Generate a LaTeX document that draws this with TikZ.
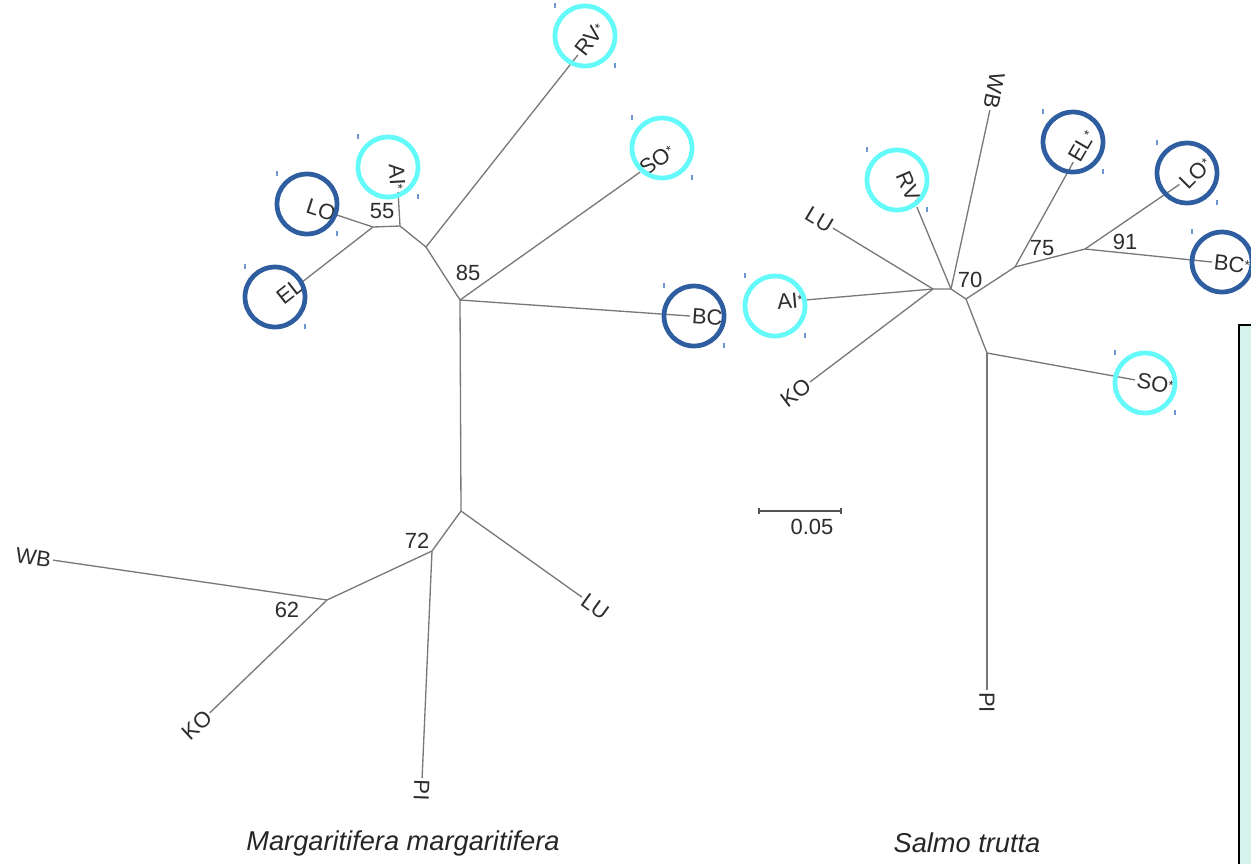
\documentclass[tikz,border=0pt]{standalone}
\usepackage{fontspec}
\setmainfont{Liberation Sans}
\definecolor{treegray}{RGB}{120,120,120}
\definecolor{txtgray}{RGB}{45,45,45}
\definecolor{ringcyan}{RGB}{100,250,250}
\definecolor{ringblue}{RGB}{46,94,160}
\definecolor{handleblue}{RGB}{110,150,210}
\definecolor{panelmint}{RGB}{214,242,236}
\newcommand{\popmark}{\raisebox{0.3ex}{\fontsize{7.5}{7.5}\selectfont *}}

\begin{document}
\begin{tikzpicture}[x=0.02cm,y=-0.02cm,
    branch/.style={treegray,line width=0.75pt},
    leaf/.style={inner sep=1pt,text=txtgray,font=\fontsize{12.5}{12.5}\selectfont},
    boot/.style={inner sep=0pt,text=txtgray,font=\fontsize{12.5}{12.5}\selectfont},
    ring/.style={circle,draw=#1,line width=2.7pt,minimum size=1.2cm,inner sep=0pt},
    handle/.style={handleblue,line width=0.6pt},
    title/.style={font=\fontsize{15.5}{16}\selectfont\itshape,text=black!85}]
    \useasboundingbox (0,0) rectangle (1251,863);

    % side panel
    \fill[panelmint] (1239,325) rectangle (1252,864);
    \draw[black,line width=1pt] (1239,864) -- (1239,325) -- (1252,325);

    % Margaritifera tree
    \coordinate (mA) at (460,300);
    \coordinate (mB) at (426,247);
    \coordinate (mC) at (400,226);
    \coordinate (mD) at (373,227);
    \coordinate (mE) at (461,511);
    \coordinate (mF) at (432,551);
    \coordinate (mG) at (327,600);
    \node[boot] (m85) at (468,273) {85};
    \node[boot] (m55) at (382,211) {55};
    \node[boot] (m72) at (417,541) {72};
    \node[boot] (m62) at (287,610) {62};
    \node[leaf,anchor=west,rotate=-4] (mBC) at (690,316) {BC};
    \node[leaf,anchor=west,rotate=35] (mSO) at (640,172) {SO\popmark};
    \node[leaf,anchor=west,rotate=52] (mRV) at (578,55) {RV\popmark};
    \node[leaf,anchor=east,rotate=-87] (mAI) at (398,192) {AI\popmark};
    \node[leaf,anchor=east,rotate=-18] (mLO) at (337,215) {LO};
    \node[leaf,anchor=east,rotate=38] (mEL) at (302,282) {EL};
    \node[leaf,anchor=west,rotate=-36] (mLU) at (582,597) {LU};
    \node[leaf,anchor=west,rotate=-92] (mPI) at (422,778) {PI};
    \node[leaf,anchor=east,rotate=-8] (mWB) at (53,560) {WB};
    \node[leaf,anchor=east,rotate=43] (mKO) at (210,713) {KO};
    \draw[branch] (mA) -- (mBC);
    \draw[branch] (mA) -- (mSO);
    \draw[branch] (mA) -- (mB) -- (mRV);
    \draw[branch] (mB) -- (mC) -- (mAI);
    \draw[branch] (mC) -- (mD) -- (mLO);
    \draw[branch] (mD) -- (mEL);
    \draw[branch] (mA) -- (mE) -- (mLU);
    \draw[branch] (mE) -- (mF) -- (mPI);
    \draw[branch] (mF) -- (mG) -- (mWB);
    \draw[branch] (mG) -- (mKO);

    % Salmo tree
    \coordinate (sH) at (933,289);
    \coordinate (sH2) at (951,289);
    \coordinate (sI) at (966,299);
    \coordinate (sJ) at (1015,267);
    \coordinate (sK) at (1085,249);
    \coordinate (sL) at (987,353);
    \node[boot] (s70) at (970,280) {70};
    \node[boot] (s75) at (1042,248) {75};
    \node[boot] (s91) at (1125,242) {91};
    \node[leaf,anchor=east,rotate=-31] (sLU) at (833,228) {LU};
    \node[leaf,anchor=east,rotate=5] (sAI) at (805,300) {AI\popmark};
    \node[leaf,anchor=east,rotate=37] (sKO) at (810,382) {KO};
    \node[leaf,anchor=east,rotate=-67] (sRV) at (917,207) {RV\popmark};
    \node[leaf,anchor=east,rotate=-102] (sWB) at (990,110) {WB};
    \node[leaf,anchor=west,rotate=60] (sEL) at (1073,162) {EL\popmark};
    \node[leaf,anchor=west,rotate=45] (sLO) at (1182,187) {LO\popmark};
    \node[leaf,anchor=west,rotate=-6] (sBC) at (1212,262) {BC\popmark};
    \node[leaf,anchor=west,rotate=-10] (sSO) at (1135,380) {SO\popmark};
    \node[leaf,anchor=west,rotate=-90] (sPI) at (987,690) {PI};
    \draw[branch] (sH) -- (sLU);
    \draw[branch] (sH) -- (sAI);
    \draw[branch] (sH) -- (sKO);
    \draw[branch] (sH) -- (sH2) -- (sRV);
    \draw[branch] (sH2) -- (sWB);
    \draw[branch] (sH2) -- (sI) -- (sJ) -- (sEL);
    \draw[branch] (sJ) -- (sK) -- (sLO);
    \draw[branch] (sK) -- (sBC);
    \draw[branch] (sI) -- (sL) -- (sSO);
    \draw[branch] (sL) -- (sPI);

    % rings
    \node[ring=ringblue] (cmBC) at (694,316) {};
    \node[ring=ringcyan] (cmSO) at (662,148) {};
    \node[ring=ringcyan] (cmRV) at (585,36) {};
    \node[ring=ringcyan] (cmAI) at (388,167) {};
    \node[ring=ringblue] (cmLO) at (307,204) {};
    \node[ring=ringblue] (cmEL) at (275,297) {};
    \node[ring=ringcyan] (csAI) at (775,306) {};
    \node[ring=ringcyan] (csRV) at (897,180) {};
    \node[ring=ringblue] (csEL) at (1073,142) {};
    \node[ring=ringblue] (csLO) at (1187,173) {};
    \node[ring=ringblue] (csBC) at (1222,262) {};
    \node[ring=ringcyan] (csSO) at (1145,383) {};
    \foreach \c in {cmBC,cmSO,cmRV,cmAI,cmLO,cmEL,csAI,csRV,csEL,csLO,csBC,csSO}{
        \draw[handle] ([shift={(-30,-33)}]\c.center) -- ++(0,5);
        \draw[handle] ([shift={(30,27)}]\c.center) -- ++(0,5);
    }

    % scale bar
    \coordinate (barL) at (759,511);
    \coordinate (barR) at (841,511);
    \draw[treegray!70!black,line width=1.1pt] (barL) -- (barR);
    \draw[treegray!70!black,line width=0.8pt] ([yshift=1.5pt]barL) -- ([yshift=-1.5pt]barL);
    \draw[treegray!70!black,line width=0.8pt] ([yshift=1.5pt]barR) -- ([yshift=-1.5pt]barR);
    \node[boot] (barlbl) at (812,527) {0.05};

    \node[title] (tM) at (403,843) {Margaritifera margaritifera};
    \node[title] (tS) at (967,843) {Salmo trutta};
\end{tikzpicture}
\end{document}
